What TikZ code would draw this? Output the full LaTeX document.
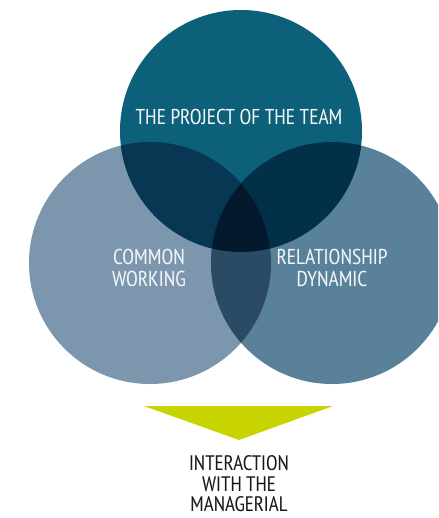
\documentclass[tikz,border=0pt]{standalone}
\usepackage{fontspec}
\setmainfont{PT Sans Narrow}
\usetikzlibrary{calc}
\definecolor{teamblue}{HTML}{0D6079}
\definecolor{leftblue}{HTML}{7C97AD}
\definecolor{rightblue}{HTML}{5A819A}
\definecolor{tlblue}{HTML}{073753}
\definecolor{trblue}{HTML}{033049}
\definecolor{lrblue}{HTML}{2B4A64}
\definecolor{allblue}{HTML}{031A2E}
\definecolor{arrowgreen}{HTML}{C8D400}
\definecolor{lighttext}{HTML}{F2F5F7}
\tikzset{
	circlabel/.style={text=lighttext, font=\fontsize{21.5}{22}\selectfont, align=center},
	baselabel/.style={text=black!90, font=\fontsize{21}{20.5}\selectfont, align=center}
}

\begin{document}
\begin{tikzpicture}[x=1pt,y=-1pt]
	
	\useasboundingbox (0,0) rectangle (438,518);
	\clip (0,0) rectangle (438,518);
	
	\coordinate (t) at (241,131);
	\coordinate (l) at (150,263);
	\coordinate (r) at (332,263);
	\def\rad{121pt}
	
	\fill[leftblue] (l) circle (\rad);
	\fill[rightblue] (r) circle (\rad);
	\fill[teamblue] (t) circle (\rad);
	\begin{scope}
		\clip (t) circle (\rad);
		\fill[tlblue] (l) circle (\rad);
		\fill[trblue] (r) circle (\rad);
	\end{scope}
	\begin{scope}
		\clip (l) circle (\rad);
		\fill[lrblue] (r) circle (\rad);
		\clip (t) circle (\rad);
		\fill[allblue] (r) circle (\rad);
	\end{scope}
	
	% arrow below
	\coordinate (ta) at (144,406);
	\coordinate (tb) at (333,406);
	\coordinate (tc) at (239,440);
	\fill[arrowgreen] (ta) -- (tb) -- (tc) -- cycle;
	
	\node[circlabel] (project) at (239,117) {THE PROJECT OF THE TEAM};
	\node[circlabel] (common) at (149,268) {COMMON\\WORKING};
	\node[circlabel] (relation) at (332,268) {RELATIONSHIP\\DYNAMIC};
	\node[baselabel] (interact) at (239,484) {INTERACTION\\WITH THE\\MANAGERIAL};
	
\end{tikzpicture}
\end{document}
